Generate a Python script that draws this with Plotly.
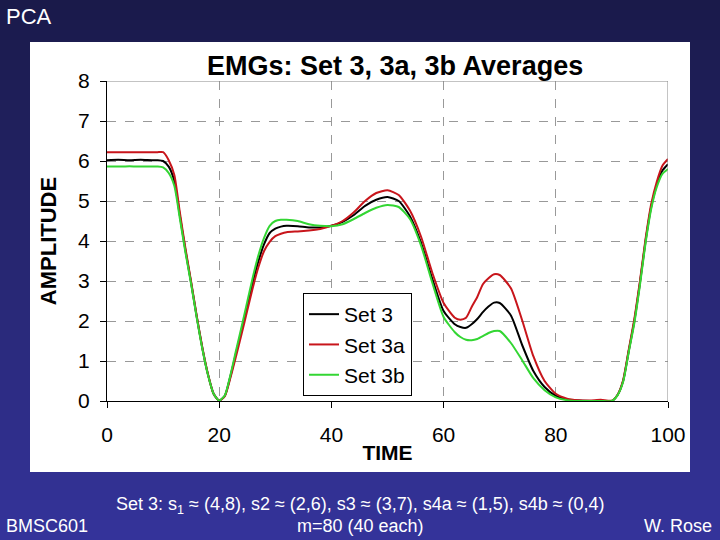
import plotly.graph_objects as go

# ---- data ----
time = [0, 2, 4, 6, 8, 9, 10, 11, 12, 13, 14, 15, 16, 17, 18, 19, 20, 21, 22, 23, 24, 25,
        26, 27, 28, 29, 30, 31, 32, 34, 36, 38, 40, 42, 44, 46, 48, 50, 52, 54, 56, 58,
        60, 62, 63, 64, 65, 66, 67, 68, 69, 70, 72, 74, 76, 78, 80, 82, 84, 86, 88, 90,
        91, 92, 93, 94, 95, 96, 97, 98, 99, 100]

set3 = [6.02, 6.03, 6.02, 6.03, 6.02, 6.02, 6.00, 5.86, 5.50, 4.62, 3.75, 2.95, 2.10, 1.32, 0.66, 0.18, 0.01, 0.13, 0.62, 1.20, 1.78, 2.38,
        2.98, 3.50, 3.92, 4.20, 4.31, 4.36, 4.38, 4.37, 4.34, 4.34, 4.38, 4.48, 4.65, 4.88, 5.03, 5.10, 5.00, 4.62, 3.95, 3.05,
        2.25, 1.92, 1.85, 1.83, 1.92, 2.05, 2.22, 2.36, 2.46, 2.45, 2.14, 1.40, 0.75, 0.35, 0.13, 0.04, 0.01, 0.00, 0.00, 0.00,
        0.15, 0.50, 1.25, 2.00, 2.95, 4.00, 4.85, 5.40, 5.76, 5.92]

set3a = [6.22, 6.22, 6.22, 6.22, 6.22, 6.22, 6.22, 6.02, 5.65, 4.70, 3.80, 2.98, 2.12, 1.33, 0.67, 0.18, 0.01, 0.12, 0.58, 1.12, 1.68, 2.26,
         2.84, 3.35, 3.75, 3.98, 4.12, 4.18, 4.22, 4.24, 4.26, 4.30, 4.38, 4.50, 4.72, 5.00, 5.20, 5.27, 5.15, 4.76, 4.10, 3.20,
         2.45, 2.08, 2.03, 2.08, 2.35, 2.60, 2.92, 3.07, 3.17, 3.15, 2.82, 2.02, 1.12, 0.50, 0.18, 0.06, 0.02, 0.01, 0.03, 0.01,
         0.15, 0.52, 1.28, 2.05, 3.00, 4.05, 4.92, 5.48, 5.88, 6.05]

set3b = [5.86, 5.86, 5.87, 5.86, 5.86, 5.86, 5.84, 5.70, 5.38, 4.55, 3.70, 2.92, 2.08, 1.30, 0.65, 0.18, 0.01, 0.14, 0.65, 1.26, 1.86, 2.48,
         3.10, 3.65, 4.08, 4.38, 4.50, 4.53, 4.53, 4.50, 4.42, 4.38, 4.37, 4.42, 4.55, 4.70, 4.83, 4.90, 4.85, 4.55, 3.88, 2.95,
         2.10, 1.72, 1.60, 1.53, 1.52, 1.55, 1.62, 1.70, 1.75, 1.75, 1.45, 1.02, 0.57, 0.27, 0.09, 0.02, 0.00, 0.00, 0.00, 0.00,
         0.14, 0.48, 1.22, 1.95, 2.90, 3.95, 4.80, 5.35, 5.68, 5.80]

series_names = ["Set 3", "Set 3a", "Set 3b"]
series_colors = ["#000000", "#c8151b", "#33d633"]

x_ticks = [0, 20, 40, 60, 80, 100]
y_ticks = [0, 1, 2, 3, 4, 5, 6, 7, 8]

W, H = 720, 540
FONT = "Arial, Liberation Sans, sans-serif"

fig = go.Figure()
for name, vals, col in zip(series_names, [set3, set3a, set3b], series_colors):
    fig.add_trace(go.Scatter(x=time, y=vals, mode="lines", name=name,
                             line=dict(color=col, width=2, shape="spline", smoothing=0.6)))

# background gradient bands + white chart box
shapes = []
top = (26, 26, 74)
bot = (52, 51, 154)
nb = 54
for i in range(nb):
    t = i / (nb - 1)
    c = tuple(int(round(top[k] + (bot[k] - top[k]) * t)) for k in range(3))
    shapes.append(dict(type="rect", xref="paper", yref="paper",
                       x0=0, x1=1, y0=1 - (i + 1) / nb, y1=1 - i / nb,
                       fillcolor="rgb(%d,%d,%d)" % c, line=dict(width=0), layer="below"))
shapes.append(dict(type="rect", xref="paper", yref="paper",
                   x0=30 / W, x1=690 / W, y0=1 - 472 / H, y1=1 - 42 / H,
                   fillcolor="white", line=dict(width=0), layer="below"))
# top and right frame (grey)
shapes.append(dict(type="line", xref="x", yref="y", x0=0, x1=100, y0=8, y1=8,
                   line=dict(color="#888888", width=1)))
shapes.append(dict(type="line", xref="x", yref="y", x0=100, x1=100, y0=0, y1=8,
                   line=dict(color="#888888", width=1)))

annotations = [
    dict(text="EMGs: Set 3, 3a, 3b Averages", x=395 / W, y=1 - 66 / H, xref="paper", yref="paper",
         showarrow=False, font=dict(family=FONT, size=27, color="black", weight="bold"),
         xanchor="center", yanchor="middle"),
    dict(text="PCA", x=4 / W, y=1 - 17 / H, xref="paper", yref="paper", showarrow=False,
         font=dict(family=FONT, size=22, color="white"), xanchor="left", yanchor="middle"),
    dict(text="Set 3: s<sub>1</sub> ≈ (4,8), s2 ≈ (2,6), s3 ≈ (3,7), s4a ≈ (1,5), s4b ≈ (0,4)",
         x=360 / W, y=1 - 505 / H, xref="paper", yref="paper", showarrow=False,
         font=dict(family=FONT, size=18, color="white"), xanchor="center", yanchor="middle"),
    dict(text="m=80 (40 each)", x=360 / W, y=1 - 526 / H, xref="paper", yref="paper", showarrow=False,
         font=dict(family=FONT, size=18, color="white"), xanchor="center", yanchor="middle"),
    dict(text="BMSC601", x=4 / W, y=1 - 526 / H, xref="paper", yref="paper", showarrow=False,
         font=dict(family=FONT, size=18, color="white"), xanchor="left", yanchor="middle"),
    dict(text="W. Rose", x=714 / W, y=1 - 526 / H, xref="paper", yref="paper", showarrow=False,
         font=dict(family=FONT, size=18, color="white"), xanchor="right", yanchor="middle"),
]

fig.update_layout(
    width=W, height=H,
    margin=dict(l=0, r=0, t=0, b=0, autoexpand=False),
    paper_bgcolor="rgb(26,26,74)",
    plot_bgcolor="rgba(0,0,0,0)",
    font=dict(family=FONT, color="black"),
    shapes=shapes,
    annotations=annotations,
    legend=dict(x=303 / W, y=1 - 293 / H, xanchor="left", yanchor="top",
                bgcolor="white", bordercolor="black", borderwidth=1,
                font=dict(family=FONT, size=21, color="black"),
                itemwidth=30, tracegroupgap=0),
    xaxis=dict(domain=[107 / W, 668 / W], range=[0, 100], tickvals=x_ticks,
               showline=True, linecolor="black", linewidth=1,
               ticks="outside", ticklen=6, tickcolor="black", ticklabelstandoff=9,
               tickfont=dict(family=FONT, size=21, color="black"),
               showgrid=True, gridcolor="#999999", griddash="dash", gridwidth=1,
               zeroline=False, automargin=False,
               title=dict(text="<b>TIME</b>", font=dict(family=FONT, size=21, color="black"), standoff=0)),
    yaxis=dict(domain=[1 - 401 / H, 1 - 81 / H], range=[0, 8], tickvals=y_ticks,
               showline=True, linecolor="black", linewidth=1,
               ticks="outside", ticklen=6, tickcolor="black", ticklabelstandoff=6,
               tickfont=dict(family=FONT, size=21, color="black"),
               showgrid=True, gridcolor="#999999", griddash="dash", gridwidth=1,
               zeroline=False, automargin=False,
               title=dict(text="<b>AMPLITUDE</b>", font=dict(family=FONT, size=22, color="black"), standoff=15)),
)

fig.write_html("out.html",
               config={"displayModeBar": False},
               post_script="document.body.style.margin='0';document.body.style.overflow='hidden';")
